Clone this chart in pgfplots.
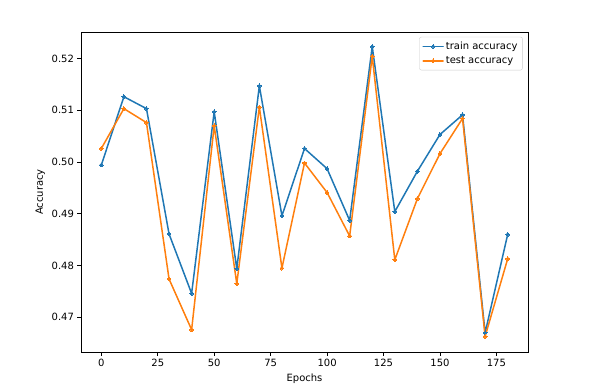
\documentclass[border=0pt]{standalone}
\usepackage{fontspec}
\setmainfont{DejaVu Sans}
\usepackage{pgfplots}
\pgfplotsset{compat=1.18}
\definecolor{cA}{HTML}{1F77B4}
\definecolor{cB}{HTML}{FF7F0E}
\begin{document}
\fontsize{10}{12}\selectfont
\begin{tikzpicture}
\useasboundingbox (-81pt,-35pt) rectangle (512pt,352pt);
\begin{axis}[
  at={(0pt,0pt)}, anchor=south west,
  scale only axis, width=447pt, height=320pt,
  xmin=-9, xmax=189, ymin=0.4633, ymax=0.5251,
  xtick={0,25,...,175},
  ytick={0.47,0.48,0.49,0.50,0.51,0.52},
  tick align=outside, tick pos=left,
  major tick length=3.5pt,
  every tick/.style={black, line width=0.8pt},
  axis line style={line width=0.8pt},
  /pgf/number format/assume math mode=true,
  yticklabel style={/pgf/number format/.cd, fixed, fixed zerofill, precision=2},
  ticklabel style={font=\fontsize{10}{12}\selectfont},
  scaled y ticks=false,
  xlabel={Epochs}, ylabel={Accuracy},
  label style={font=\fontsize{10}{12}\selectfont},
  legend style={draw=black!20, rounded corners=2pt, fill=white, fill opacity=0.8, text opacity=1,
    font=\fontsize{10}{12}\selectfont, at={(0.988,0.985)}, anchor=north east, inner sep=3pt,
    row sep=1.5pt},
  legend image code/.code={
    \draw[mark repeat=2,mark phase=2] plot coordinates {(0cm,0cm) (0.35cm,0cm) (0.7cm,0cm)};},
  legend cell align=left,
]
\addplot[cA, line width=1.5pt, line join=round, line cap=round, mark=*, mark size=1.9pt, mark options={line width=0pt, fill=cA}] coordinates {
(0,0.4994)(10,0.5126)(20,0.5103)(30,0.4861)(40,0.4746)(50,0.5097)(60,0.4794)(70,0.5147)(80,0.4896)(90,0.5026)
(100,0.4987)(110,0.4887)(120,0.5223)(130,0.4904)(140,0.4982)(150,0.5053)(160,0.5091)(170,0.4670)(180,0.4860)};
\addlegendentry{train accuracy}
\addplot[cB, line width=1.5pt, line join=round, line cap=round, mark=*, mark size=1.9pt, mark options={line width=0pt, fill=cB}] coordinates {
(0,0.5026)(10,0.5103)(20,0.5076)(30,0.4774)(40,0.4676)(50,0.5070)(60,0.4765)(70,0.5106)(80,0.4795)(90,0.4998)
(100,0.4941)(110,0.4857)(120,0.5204)(130,0.4811)(140,0.4929)(150,0.5016)(160,0.5084)(170,0.4663)(180,0.4813)};
\addlegendentry{test accuracy}
\end{axis}
\end{tikzpicture}
\end{document}
